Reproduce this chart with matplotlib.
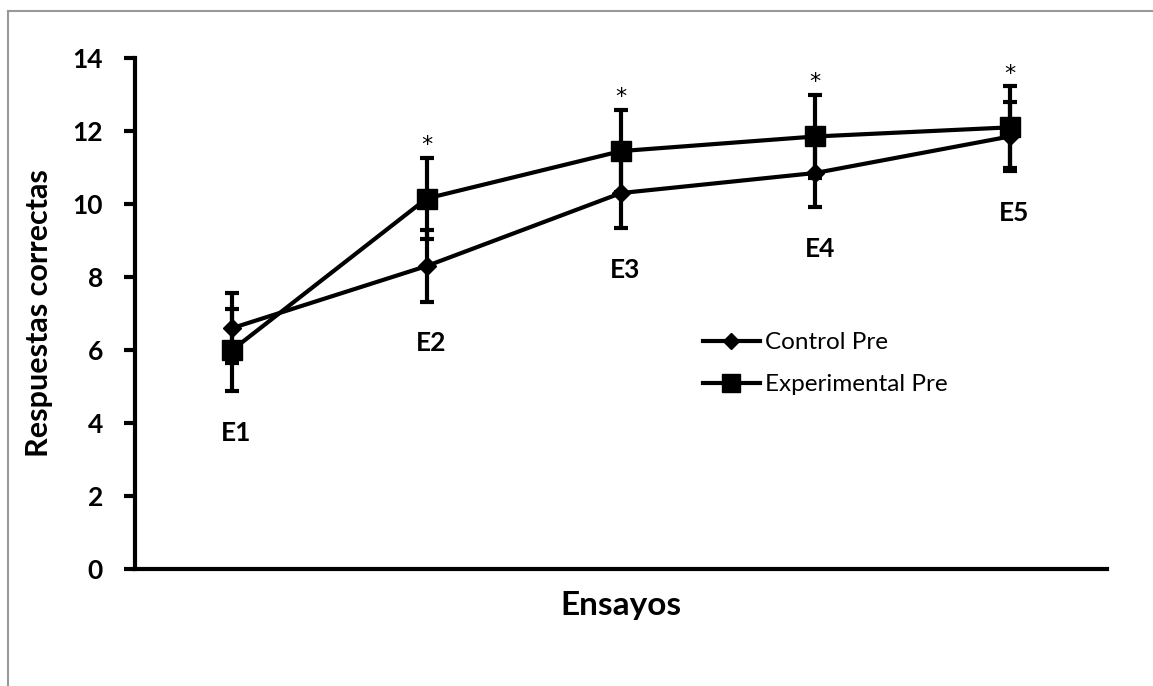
import matplotlib
matplotlib.use("Agg")
import matplotlib.pyplot as plt
from matplotlib.lines import Line2D

# Data
ensayos = ["E1", "E2", "E3", "E4", "E5"]
control_pre = [6.6, 8.3, 10.3, 10.85, 11.85]
control_err = [0.95, 0.98, 0.96, 0.93, 0.95]
experimental_pre = [6.0, 10.15, 11.45, 11.85, 12.1]
experimental_err = [1.12, 1.12, 1.13, 1.14, 1.12]
significant = [False, True, True, True, True]
yticks = [0, 2, 4, 6, 8, 10, 12, 14]

FONT = ["Lato", "DejaVu Sans"]
plt.rcParams["font.family"] = FONT

fig = plt.figure(figsize=(11.53, 6.86), dpi=100)
ax = fig.add_axes([135 / 1153, 117 / 686, 972 / 1153, 511 / 686])

x = list(range(len(ensayos)))

ax.errorbar(x, control_pre, yerr=control_err, color="black", lw=3,
            marker="D", markersize=9.5, elinewidth=3, capsize=5, capthick=3,
            label="Control Pre", zorder=3)
ax.errorbar(x, experimental_pre, yerr=experimental_err, color="black", lw=3,
            marker="s", markersize=14, elinewidth=3, capsize=5, capthick=3,
            label="Experimental Pre", zorder=4)

# Trial labels beneath the lowest error bar, asterisks above the highest
for i, name in enumerate(ensayos):
    low = min(control_pre[i] - control_err[i], experimental_pre[i] - experimental_err[i])
    high = max(control_pre[i] + control_err[i], experimental_pre[i] + experimental_err[i])
    ax.annotate(name, (i, low), xytext=(3, -30), textcoords="offset points",
                ha="center", va="center", fontsize=19, fontweight="bold")
    if significant[i]:
        ax.annotate("*", (i, high), xytext=(0, 2), textcoords="offset points",
                    ha="center", va="bottom", fontsize=16,
                    family=["DejaVu Sans"])

ax.set_xlim(-0.5, len(ensayos) - 0.5)
ax.set_ylim(0, 14)
ax.set_yticks(yticks)
ax.set_yticklabels([str(v) for v in yticks], fontsize=19, fontweight="bold")
ax.set_xticks([])
ax.tick_params(axis="y", direction="out", length=8, width=3, pad=15)

for side in ("top", "right"):
    ax.spines[side].set_visible(False)
for side in ("left", "bottom"):
    ax.spines[side].set_linewidth(3)

ax.set_ylabel("Respuestas correctas", fontsize=22, fontweight="bold", labelpad=14)
ax.set_xlabel("Ensayos", fontsize=24, fontweight="bold", labelpad=16)

handles = [
    Line2D([], [], color="black", lw=3, marker="D", markersize=8.5),
    Line2D([], [], color="black", lw=3, marker="s", markersize=12.5),
]
ax.legend(handles, ["Control Pre", "Experimental Pre"], frameon=False,
          fontsize=17.5, loc="upper left", bbox_to_anchor=(0.584, 0.463),
          borderpad=0, borderaxespad=0,
          handlelength=2.35, handletextpad=0.2, labelspacing=0.85)

# Grey frame around the chart area
fig.add_artist(Line2D([8 / 1153, 8 / 1153], [0, 1 - 11 / 686], transform=fig.transFigure,
                      color="#999999", lw=1.5))
fig.add_artist(Line2D([8 / 1153, 1], [1 - 11 / 686, 1 - 11 / 686], transform=fig.transFigure,
                      color="#999999", lw=1.5))

fig.savefig("out.png", dpi=100)
